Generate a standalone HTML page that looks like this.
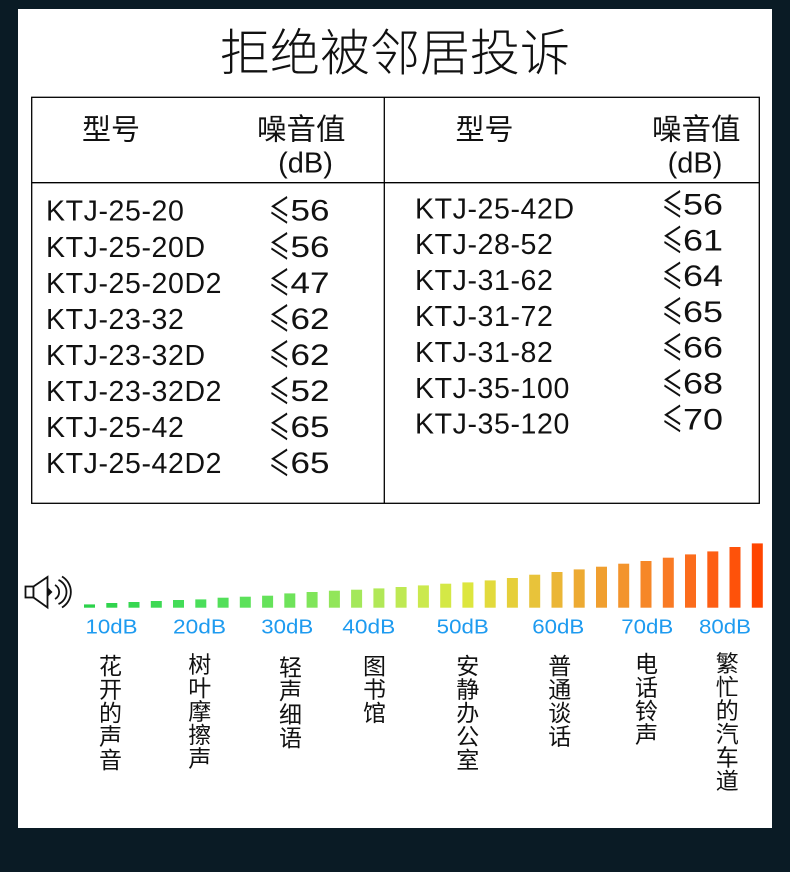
<!DOCTYPE html>
<html><head><meta charset="utf-8"><style>
html,body{margin:0;padding:0;background:#0a1b25;}
svg{display:block;}
.t{font-family:"Liberation Sans","Noto Sans CJK SC",sans-serif;fill:#111;}
.c{font-family:"Noto Sans CJK SC",sans-serif;fill:#111;}
.b{font-family:"Liberation Sans","Noto Sans CJK SC",sans-serif;fill:#1e9bf0;font-size:20.5px;}
</style></head><body>
<svg width="790" height="872" viewBox="0 0 790 872" xmlns="http://www.w3.org/2000/svg">
<rect x="0" y="0" width="790" height="872" fill="#0a1b25"/>
<rect x="18" y="9" width="754" height="819" fill="#ffffff"/>

<!-- Title -->
<text class="t" x="220" y="70.5" font-size="50" font-weight="300">拒绝被邻居投诉</text>

<!-- Table -->
<rect x="31.7" y="97.3" width="727.6" height="406" fill="none" stroke="#000" stroke-width="1.3"/>
<line x1="384.3" y1="97.3" x2="384.3" y2="503.3" stroke="#000" stroke-width="1.3"/>
<line x1="31.7" y1="182.7" x2="759.3" y2="182.7" stroke="#000" stroke-width="1.3"/>

<text class="t" x="82" y="139.5" font-size="29">型号</text>
<text class="t" x="257" y="139.5" font-size="29.5">噪音值</text>
<text class="t" x="305.5" y="172.5" font-size="29" text-anchor="middle">(dB)</text>
<text class="t" x="455.5" y="139.5" font-size="29">型号</text>
<text class="t" x="652" y="139.5" font-size="29.5">噪音值</text>
<text class="t" x="695" y="172.5" font-size="29" text-anchor="middle">(dB)</text>

<g class="t" font-size="28.5" letter-spacing="0.6">
<text x="46" y="220.7">KTJ-25-20</text>
<text x="46" y="256.8">KTJ-25-20D</text>
<text x="46" y="292.8">KTJ-25-20D2</text>
<text x="46" y="328.9">KTJ-23-32</text>
<text x="46" y="364.9">KTJ-23-32D</text>
<text x="46" y="401">KTJ-23-32D2</text>
<text x="46" y="437">KTJ-25-42</text>
<text x="46" y="473">KTJ-25-42D2</text>

<text x="415" y="218.3">KTJ-25-42D</text>
<text x="415" y="254.2">KTJ-28-52</text>
<text x="415" y="290.1">KTJ-31-62</text>
<text x="415" y="326">KTJ-31-72</text>
<text x="415" y="361.9">KTJ-31-82</text>
<text x="415" y="397.8">KTJ-35-100</text>
<text x="415" y="433.7">KTJ-35-120</text>
</g>

<!-- left values -->
<g font-size="29.5">
<text class="c" x="269" y="223" font-size="34" textLength="21" lengthAdjust="spacingAndGlyphs">≤</text>
<text class="t" x="290.5" y="220.7" textLength="39" lengthAdjust="spacingAndGlyphs">56</text>
<text class="c" x="269" y="259.1" font-size="34" textLength="21" lengthAdjust="spacingAndGlyphs">≤</text>
<text class="t" x="290.5" y="256.8" textLength="39" lengthAdjust="spacingAndGlyphs">56</text>
<text class="c" x="269" y="295.1" font-size="34" textLength="21" lengthAdjust="spacingAndGlyphs">≤</text>
<text class="t" x="290.5" y="292.8" textLength="39" lengthAdjust="spacingAndGlyphs">47</text>
<text class="c" x="269" y="331.2" font-size="34" textLength="21" lengthAdjust="spacingAndGlyphs">≤</text>
<text class="t" x="290.5" y="328.9" textLength="39" lengthAdjust="spacingAndGlyphs">62</text>
<text class="c" x="269" y="367.2" font-size="34" textLength="21" lengthAdjust="spacingAndGlyphs">≤</text>
<text class="t" x="290.5" y="364.9" textLength="39" lengthAdjust="spacingAndGlyphs">62</text>
<text class="c" x="269" y="403.3" font-size="34" textLength="21" lengthAdjust="spacingAndGlyphs">≤</text>
<text class="t" x="290.5" y="401" textLength="39" lengthAdjust="spacingAndGlyphs">52</text>
<text class="c" x="269" y="439.3" font-size="34" textLength="21" lengthAdjust="spacingAndGlyphs">≤</text>
<text class="t" x="290.5" y="437" textLength="39" lengthAdjust="spacingAndGlyphs">65</text>
<text class="c" x="269" y="475.3" font-size="34" textLength="21" lengthAdjust="spacingAndGlyphs">≤</text>
<text class="t" x="290.5" y="473" textLength="39" lengthAdjust="spacingAndGlyphs">65</text>
</g>

<!-- right values -->
<g font-size="29.5">
<text class="c" x="662" y="216.8" font-size="34" textLength="21" lengthAdjust="spacingAndGlyphs">≤</text>
<text class="t" x="683" y="214.5" textLength="40" lengthAdjust="spacingAndGlyphs">56</text>
<text class="c" x="662" y="252.6" font-size="34" textLength="21" lengthAdjust="spacingAndGlyphs">≤</text>
<text class="t" x="683" y="250.3" textLength="40" lengthAdjust="spacingAndGlyphs">61</text>
<text class="c" x="662" y="288.4" font-size="34" textLength="21" lengthAdjust="spacingAndGlyphs">≤</text>
<text class="t" x="683" y="286.1" textLength="40" lengthAdjust="spacingAndGlyphs">64</text>
<text class="c" x="662" y="324.2" font-size="34" textLength="21" lengthAdjust="spacingAndGlyphs">≤</text>
<text class="t" x="683" y="321.9" textLength="40" lengthAdjust="spacingAndGlyphs">65</text>
<text class="c" x="662" y="360" font-size="34" textLength="21" lengthAdjust="spacingAndGlyphs">≤</text>
<text class="t" x="683" y="357.7" textLength="40" lengthAdjust="spacingAndGlyphs">66</text>
<text class="c" x="662" y="395.8" font-size="34" textLength="21" lengthAdjust="spacingAndGlyphs">≤</text>
<text class="t" x="683" y="393.5" textLength="40" lengthAdjust="spacingAndGlyphs">68</text>
<text class="c" x="662" y="431.6" font-size="34" textLength="21" lengthAdjust="spacingAndGlyphs">≤</text>
<text class="t" x="683" y="429.3" textLength="40" lengthAdjust="spacingAndGlyphs">70</text>
</g>

<!-- Speaker icon -->
<g fill="none" stroke="#111" stroke-width="1.8">
<rect x="25.5" y="586.5" width="8" height="11" fill="#fff"/>
<path d="M33.5 586.5 L47.5 577 L47.5 607.5 L33.5 597.5 Z" fill="#fff"/>
<path d="M55 585 A8 8 0 0 1 55 599"/>
<path d="M58.5 580 A13 13 0 0 1 58.5 604"/>
<path d="M62 576.5 A18 18 0 0 1 62 607.5"/>
</g>
<path d="M48 587.5 L52.5 592 L48 596.5 Z" fill="#111"/>

<!-- Bars -->
<g>
<rect x="84.0" y="604.4" width="11" height="3.3" fill="#2bd24a"/>
<rect x="106.3" y="603.0" width="11" height="4.7" fill="#30d44d"/>
<rect x="128.5" y="602.0" width="11" height="5.7" fill="#36d750"/>
<rect x="150.8" y="601.0" width="11" height="6.7" fill="#3dd953"/>
<rect x="173.0" y="600.0" width="11" height="7.7" fill="#43dc57"/>
<rect x="195.3" y="599.4" width="11" height="8.3" fill="#4ade5a"/>
<rect x="217.6" y="597.7" width="11" height="10" fill="#53df5a"/>
<rect x="239.8" y="596.7" width="11" height="11" fill="#5ce15a"/>
<rect x="262.1" y="595.7" width="11" height="12" fill="#65e25a"/>
<rect x="284.3" y="593.4" width="11" height="14.3" fill="#6ee35a"/>
<rect x="306.6" y="592.0" width="11" height="15.7" fill="#80e55a"/>
<rect x="328.9" y="590.7" width="11" height="17" fill="#92e65a"/>
<rect x="351.1" y="589.7" width="11" height="18" fill="#a4e85a"/>
<rect x="373.4" y="588.4" width="11" height="19.3" fill="#b1e857"/>
<rect x="395.6" y="587.0" width="11" height="20.7" fill="#bee953"/>
<rect x="417.9" y="585.4" width="11" height="22.3" fill="#cbe94e"/>
<rect x="440.2" y="583.7" width="11" height="24" fill="#d4e846"/>
<rect x="462.4" y="582.4" width="11" height="25.3" fill="#dde63e"/>
<rect x="484.7" y="580.4" width="11" height="27.3" fill="#e2da3c"/>
<rect x="506.9" y="578.0" width="11" height="29.7" fill="#e6cf3a"/>
<rect x="529.2" y="574.7" width="11" height="33" fill="#e8c33a"/>
<rect x="551.5" y="572.0" width="11" height="35.7" fill="#ebb636"/>
<rect x="573.7" y="569.4" width="11" height="38.3" fill="#edaa32"/>
<rect x="596.0" y="566.7" width="11" height="41" fill="#f09f2f"/>
<rect x="618.2" y="563.7" width="11" height="44" fill="#f3942c"/>
<rect x="640.5" y="561.0" width="11" height="46.7" fill="#f68728"/>
<rect x="662.8" y="557.7" width="11" height="50" fill="#f97a24"/>
<rect x="685.0" y="554.4" width="11" height="53.3" fill="#fb6c1c"/>
<rect x="707.3" y="551.4" width="11" height="56.3" fill="#fd5e14"/>
<rect x="729.5" y="547.0" width="11" height="60.7" fill="#fe520a"/>
<rect x="751.8" y="543.4" width="11" height="64.3" fill="#ff4500"/>
</g>

<!-- dB labels -->
<text class="b" x="85.5" y="633.3" textLength="52" lengthAdjust="spacingAndGlyphs">10dB</text>
<text class="b" x="173" y="633.3" textLength="53" lengthAdjust="spacingAndGlyphs">20dB</text>
<text class="b" x="261.3" y="633.3" textLength="52" lengthAdjust="spacingAndGlyphs">30dB</text>
<text class="b" x="342.3" y="633.3" textLength="53" lengthAdjust="spacingAndGlyphs">40dB</text>
<text class="b" x="436.7" y="633.3" textLength="52" lengthAdjust="spacingAndGlyphs">50dB</text>
<text class="b" x="532.3" y="633.3" textLength="52" lengthAdjust="spacingAndGlyphs">60dB</text>
<text class="b" x="621.3" y="633.3" textLength="52" lengthAdjust="spacingAndGlyphs">70dB</text>
<text class="b" x="699" y="633.3" textLength="52" lengthAdjust="spacingAndGlyphs">80dB</text>

<!-- vertical labels -->
<g class="t" font-size="23">
<text x="99" y="674"><tspan x="99">花</tspan><tspan x="99" dy="23.5">开</tspan><tspan x="99" dy="23.5">的</tspan><tspan x="99" dy="23.5">声</tspan><tspan x="99" dy="23.5">音</tspan></text>
<text x="188.3" y="672.3"><tspan x="188.3">树</tspan><tspan x="188.3" dy="23.5">叶</tspan><tspan x="188.3" dy="23.5">摩</tspan><tspan x="188.3" dy="23.5">擦</tspan><tspan x="188.3" dy="23.5">声</tspan></text>
<text x="279" y="675.7"><tspan x="279">轻</tspan><tspan x="279" dy="23.5">声</tspan><tspan x="279" dy="23.5">细</tspan><tspan x="279" dy="23.5">语</tspan></text>
<text x="363" y="674"><tspan x="363">图</tspan><tspan x="363" dy="23.5">书</tspan><tspan x="363" dy="23.5">馆</tspan></text>
<text x="456.3" y="674"><tspan x="456.3">安</tspan><tspan x="456.3" dy="23.5">静</tspan><tspan x="456.3" dy="23.5">办</tspan><tspan x="456.3" dy="23.5">公</tspan><tspan x="456.3" dy="23.5">室</tspan></text>
<text x="548.3" y="674"><tspan x="548.3">普</tspan><tspan x="548.3" dy="23.5">通</tspan><tspan x="548.3" dy="23.5">谈</tspan><tspan x="548.3" dy="23.5">话</tspan></text>
<text x="635" y="672"><tspan x="635">电</tspan><tspan x="635" dy="23.5">话</tspan><tspan x="635" dy="23.5">铃</tspan><tspan x="635" dy="23.5">声</tspan></text>
<text x="715.7" y="671.7"><tspan x="715.7">繁</tspan><tspan x="715.7" dy="23.5">忙</tspan><tspan x="715.7" dy="23.5">的</tspan><tspan x="715.7" dy="23.5">汽</tspan><tspan x="715.7" dy="23.5">车</tspan><tspan x="715.7" dy="23.5">道</tspan></text>
</g>
</svg>
</body></html>
